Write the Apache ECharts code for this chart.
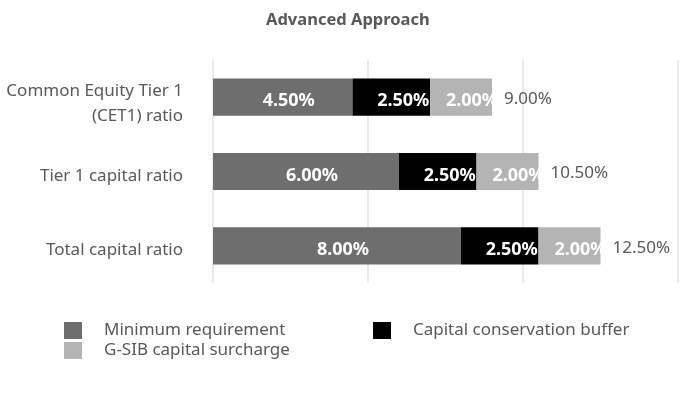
<!DOCTYPE html>
<html>
<head>
<meta charset="utf-8">
<script src="https://cdn.jsdelivr.net/npm/echarts@6/dist/echarts.min.js"></script>
<style>html,body{margin:0;padding:0;background:#fff}#c{width:700px;height:400px}</style>
</head>
<body>
<div id="c"></div>
<script>
const categories = ['Common Equity Tier 1\n(CET1) ratio', 'Tier 1 capital ratio', 'Total capital ratio'];
const minimumRequirement = [4.5, 6.0, 8.0];
const conservationBuffer = [2.5, 2.5, 2.5];
const gsibSurcharge = [2.0, 2.0, 2.0];
const totals = [9.0, 10.5, 12.5];
const xTicks = [0, 5, 10, 15];

const FONT = '"Noto Sans", sans-serif';
const chart = echarts.init(document.getElementById('c'));
const pct = v => v.toFixed(2) + '%';
function segLabel(offX) {
  return {show: true, position: 'inside', offset: [offX, 4], color: '#fff', fontWeight: 'bold', fontSize: 18, fontFamily: FONT,
    formatter: p => pct(p.value)};
}
chart.setOption({
  animation: false,
  title: {text: 'Advanced Approach', left: 261, top: 7,
    textStyle: {fontFamily: FONT, fontSize: 16.5, fontWeight: 'bold', color: '#595959'}},
  legend: [
    {data: ['Minimum requirement', 'G-SIB capital surcharge'], orient: 'vertical', left: 64, top: 322, padding: 0,
     itemWidth: 18, itemHeight: 17, itemGap: 3, icon: 'rect',
     textStyle: {fontFamily: FONT, fontSize: 17, color: '#595959', padding: [3, 0, 0, 17]}},
    {data: ['Capital conservation buffer'], orient: 'vertical', left: 373, top: 322, padding: 0,
     itemWidth: 18, itemHeight: 17, itemGap: 3, icon: 'rect',
     textStyle: {fontFamily: FONT, fontSize: 17, color: '#595959', padding: [3, 0, 0, 17]}}
  ],
  grid: {left: 213, right: 22, top: 60, bottom: 117, containLabel: false},
  xAxis: {type: 'value', min: xTicks[0], max: xTicks[xTicks.length - 1], interval: xTicks[1] - xTicks[0],
    axisLabel: {show: false}, axisLine: {show: false}, axisTick: {show: false},
    splitLine: {lineStyle: {color: '#e3e3e3', width: 1.5}}},
  yAxis: {type: 'category', inverse: true, data: categories,
    axisLine: {show: false}, axisTick: {show: false},
    axisLabel: {margin: 30, align: 'right',
      formatter: v => {
        const lines = v.split('\n');
        return '{' + (lines.length > 1 ? 'sp2' : 'sp1') + '| }\n' + lines.map(l => '{a|' + l + '}').join('\n');
      },
      rich: {
        a: {fontFamily: FONT, fontSize: 17, color: '#595959', lineHeight: 25},
        sp1: {fontSize: 1, lineHeight: 9},
        sp2: {fontSize: 1, lineHeight: 13}
      }}},
  series: [
    {name: 'Minimum requirement', type: 'bar', stack: 's', barWidth: '50%', data: minimumRequirement,
     itemStyle: {color: '#6e6e6e'}, label: segLabel(6)},
    {name: 'Capital conservation buffer', type: 'bar', stack: 's', data: conservationBuffer,
     itemStyle: {color: '#000000'}, label: segLabel(12)},
    {name: 'G-SIB capital surcharge', type: 'bar', stack: 's', data: gsibSurcharge,
     itemStyle: {color: '#b4b4b4'}, label: segLabel(11)},
    {name: 'Total', type: 'bar', stack: 's', data: totals.map(() => 0),
     itemStyle: {color: 'transparent'},
     label: {show: true, position: 'right', distance: 12, offset: [0, 2], color: '#595959', fontSize: 17, fontFamily: FONT,
       formatter: p => pct(totals[p.dataIndex])}}
  ]
});
</script>
</body>
</html>
